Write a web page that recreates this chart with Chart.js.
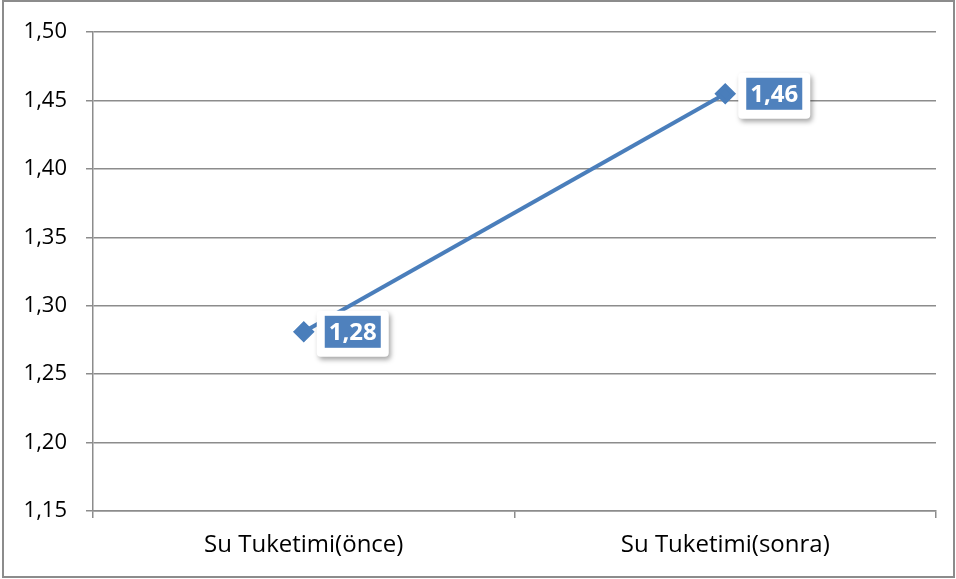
<!DOCTYPE html>
<html>
<head>
<meta charset="utf-8">
<script src="https://cdn.jsdelivr.net/npm/chart.js@4"></script>
<style>
body{margin:0;background:#fff}
#wrap{width:956px;height:579px;position:relative}
</style>
</head>
<body>
<div id="wrap"><canvas id="chart" width="956" height="579"></canvas></div>
<script>
const categories = ["Su Tuketimi(önce)", "Su Tuketimi(sonra)"]
const values = [1.281, 1.455]
const valueLabels = ["1,28", "1,46"]

const fmt = v => v.toFixed(2).replace(".", ",")

// data label boxes + outer frame
const labelBoxes = {
  id: "labelBoxes",
  afterDatasetsDraw(chart){
    const ctx = chart.ctx
    const meta = chart.getDatasetMeta(0)
    ctx.save()
    ctx.font = "bold 24px 'Open Sans', sans-serif"
    meta.data.forEach((pt, i) => {
      const txt = valueLabels[i]
      const tw = ctx.measureText(txt).width
      const bx = pt.x + 13, by = pt.y - 21
      const bw = tw + 24, bh = 46
      ctx.shadowColor = "rgba(0,0,0,0.35)"
      ctx.shadowBlur = 5
      ctx.shadowOffsetX = 2
      ctx.shadowOffsetY = 3
      ctx.fillStyle = "#fff"
      ctx.beginPath()
      ctx.roundRect(bx, by, bw, bh, 4)
      ctx.fill()
      ctx.shadowColor = "transparent"
      ctx.fillStyle = "#4f81bd"
      ctx.fillRect(bx + 8, by + 5, bw - 16, bh - 14)
      ctx.fillStyle = "#fff"
      ctx.textBaseline = "middle"
      ctx.fillText(txt, bx + 12, by + 5 + (bh - 14) / 2 + 1)
    })
    ctx.strokeStyle = "#8c8c8c"
    ctx.lineWidth = 2
    ctx.strokeRect(3, 1, 951, 576)
    ctx.restore()
  }
}

new Chart(document.getElementById("chart"), {
  type: "line",
  data: {
    labels: categories,
    datasets: [{
      data: values,
      borderColor: "#4a7ebb",
      backgroundColor: "#4a7ebb",
      borderWidth: 4,
      pointStyle: "rectRot",
      pointRadius: 8,
      pointHoverRadius: 8,
      tension: 0
    }]
  },
  options: {
    responsive: false,
    animation: false,
    layout: { padding: { left: 0, top: 32, right: 20, bottom: 0 } },
    plugins: { legend: { display: false }, tooltip: { enabled: false } },
    scales: {
      x: {
        offset: true,
        grid: { offset: true, drawOnChartArea: false, color: "#8c8c8c", tickLength: 7, lineWidth: 1.5 },
        border: { color: "#8c8c8c", width: 1.5 },
        ticks: { color: "#000", font: { family: "'Open Sans', sans-serif", size: 24 }, padding: 13 },
        afterFit(s){ s.height = 68 }
      },
      y: {
        min: 1.15, max: 1.5,
        grid: { color: "#8c8c8c", tickLength: 7, lineWidth: 1.5 },
        border: { color: "#8c8c8c", width: 1.5 },
        ticks: { stepSize: 0.05, color: "#000", font: { family: "'Open Sans', sans-serif", size: 22 }, padding: 19, callback: v => fmt(v) },
        afterFit(s){ s.width = 93 }
      }
    }
  },
  plugins: [labelBoxes]
})
</script>
</body>
</html>
